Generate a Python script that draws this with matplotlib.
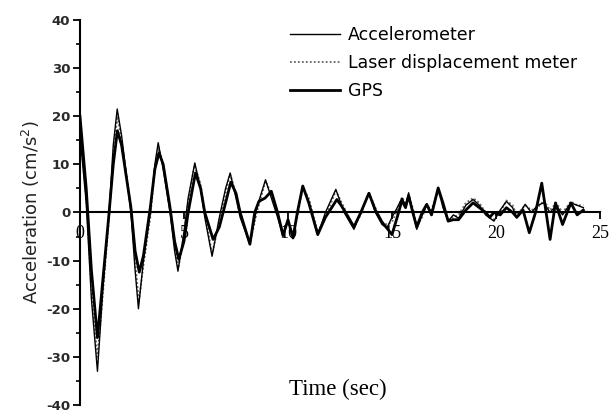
import matplotlib
matplotlib.use("Agg")
import matplotlib.pyplot as plt
from matplotlib.ticker import MultipleLocator

# Accelerometer record (thin solid)
acc_t = [0, 0.3, 0.55, 0.84, 1.1, 1.4, 1.6, 1.79, 2.0, 2.45, 2.65, 2.81, 3.05, 3.38,
         3.6, 3.76, 4.0, 4.33, 4.55, 4.71, 5.0, 5.2, 5.52, 5.8, 6.0, 6.35, 6.7, 7.0,
         7.22, 7.5, 7.7, 8.17, 8.5, 8.92, 9.2, 9.5, 9.76, 10.0, 10.24, 10.45, 10.71,
         11.0, 11.43, 11.8, 12.3, 12.7, 13.17, 13.5, 13.89, 14.2, 14.52, 14.76, 15.0,
         15.25, 15.48, 15.65, 15.8, 16.0, 16.19, 16.45, 16.67, 16.9, 17.22, 17.45,
         17.7, 17.95, 18.2, 18.55, 18.9, 19.2, 19.5, 19.9, 20.2, 20.5, 20.8, 21.0,
         21.4, 21.7, 22.0, 22.3, 22.6, 22.9, 23.2, 23.6, 23.9, 24.2]
acc_a = [16, 2, -18, -33, -16, 0, 14, 21.5, 16, 0, -12, -20, -10, 0,
         10, 14.5, 9, 0, -8, -12.2, -4, 3, 10.3, 5, -1, -9.1, -1, 5,
         8.2, 3, -1, -6.6, 1, 6.8, 3, -1, -4.9, -1.5, -5.3, 0, 5.5,
         2, -4.6, 0, 4.8, 0, -3.5, 0, 4.1, 0, -2.5, -3.2, -1,
         1, 3, 1.5, 4.1, 0, -3.5, -0.5, 1.7, 0, 5.1, 1,
         -1.8, -0.5, -1.2, 1.5, 2.7, 1.5, -0.5, -1.8, 0.5, 2.3, 1, -1.1,
         1.7, 0, 1.5, 2, 0, 1.5, -0.5, 2, 1.5, 1]

# Laser displacement meter record (dotted)
laser_t = [0, 0.3, 0.55, 0.84, 1.1, 1.4, 1.6, 1.8, 2.0, 2.45, 2.65, 2.83, 3.05, 3.38,
           3.6, 3.78, 4.0, 4.33, 4.55, 4.73, 5.0, 5.2, 5.5, 5.8, 6.0, 6.35, 6.7, 7.0,
           7.22, 7.5, 7.7, 8.17, 8.5, 8.92, 9.2, 9.5, 9.76, 10.0, 10.24, 10.45, 10.71,
           11.0, 11.43, 11.8, 12.3, 12.7, 13.17, 13.5, 13.89, 14.2, 14.52, 14.76, 15.0,
           15.25, 15.48, 15.65, 15.8, 16.0, 16.19, 16.45, 16.67, 16.9, 17.22, 17.45,
           17.7, 17.95, 18.2, 18.55, 18.9, 19.2, 19.5, 19.9, 20.2, 20.5, 20.8, 21.0,
           21.4, 21.7, 22.0, 22.3, 22.6, 22.9, 23.2, 23.6, 23.9, 24.2]
laser_a = [17, 3, -16, -30, -17, -1, 12, 20, 15, 1, -10, -18.5, -11, -1,
           9, 13.5, 10, 1, -7, -11.5, -5, 2, 9.8, 6, 0, -8.5, -2, 4,
           8, 4, 0, -6.5, 0, 6.5, 4, 0, -4, -2, -4.5, -1, 5.2,
           3, -4, -1, 4.5, 1, -3, -0.5, 4.2, 1, -2, -2.5, -2,
           0.5, 3.2, 2, 3.5, 1, -3, -1, 1.5, 0.5, 4.5, 1.5,
           -1.5, -1, -0.5, 2, 3, 2, 0, -1.5, 0, 2.5, 1.5, -0.5,
           1.5, 0.5, 1, 2.5, 0.5, 2, 0, 2.3, 1.5, 1.5]

# GPS record (thick solid)
gps_t = [0, 0.3, 0.55, 0.84, 1.1, 1.4, 1.6, 1.8, 2.0, 2.45, 2.65, 2.85, 3.05, 3.38,
         3.6, 3.8, 4.0, 4.33, 4.55, 4.75, 5.0, 5.2, 5.55, 5.8, 6.0, 6.4, 6.7, 7.0,
         7.25, 7.5, 7.7, 8.17, 8.4, 8.6, 8.9, 9.2, 9.5, 9.76, 10.0, 10.24, 10.45,
         10.71, 11.0, 11.43, 11.8, 12.1, 12.35, 12.55, 12.7, 13.17, 13.5, 13.89, 14.2,
         14.52, 14.8, 15.0, 15.25, 15.48, 15.65, 15.8, 16.0, 16.19, 16.45, 16.67,
         16.9, 17.22, 17.45, 17.7, 17.95, 18.2, 18.55, 18.9, 19.2, 19.5, 19.7, 19.9,
         20.2, 20.5, 20.8, 21.0, 21.3, 21.6, 21.9, 22.2, 22.6, 22.86, 23.2, 23.6,
         23.9, 24.2]
gps_a = [20, 5, -12, -26, -14, 0, 10, 17, 14, 1, -8, -12.4, -9, 1,
         9, 12.4, 10, 1, -6, -9.75, -6, 0, 8.2, 5, 0, -5.6, -3, 2,
         6.3, 4, 0, -6.6, 0, 2.3, 3, 4.4, 0, -4.8, -1.5, -5.3, 0,
         5.5, 2, -4.6, -1, 1, 2.7, 1.5, 0.5, -3, 0, 4, 0.5,
         -2, -3.5, -4.6, -1, 2.5, 1, 3.5, 0, -3, 0, 1.7,
         -0.5, 5.1, 2, -1.8, -1.5, -1.5, 0.5, 2, 1, 0, -1, 0,
         -0.5, 1, 0, -1, 0.5, -4.2, 0, 6.1, -5.6, 2, -2.5, 2,
         -0.5, 0.5]

x_ticks = [0, 5, 10, 15, 20, 25]
y_ticks = [-40, -30, -20, -10, 0, 10, 20, 30, 40]

serif = "Liberation Serif"
sans = "DejaVu Sans"

fig = plt.figure(figsize=(6.11, 4.13), dpi=100)
ax = fig.add_axes([0.1309, 0.0194, 0.8511, 0.9322])

ax.plot(acc_t, acc_a, color="black", lw=1.0, label="Accelerometer", zorder=3)
ax.plot(laser_t, laser_a, color="#666666", lw=1.3, ls=(0, (1, 1.2)),
        label="Laser displacement meter", zorder=2)
ax.plot(gps_t, gps_a, color="black", lw=2.0, label="GPS", zorder=4)

ax.set_xlim(0, 25)
ax.set_ylim(-40, 40)

ax.spines["top"].set_visible(False)
ax.spines["right"].set_visible(False)
ax.spines["bottom"].set_position(("data", 0))
ax.spines["bottom"].set_linewidth(1.5)
ax.spines["left"].set_linewidth(1.5)
ax.spines["bottom"].set_zorder(5)

ax.set_xticks(x_ticks)
ax.set_xticklabels([str(v) for v in x_ticks], fontfamily=serif, fontsize=13)
ax.set_yticks(y_ticks)
ax.set_yticklabels([str(v) for v in y_ticks], fontfamily=sans, fontsize=9.5,
                   fontweight="bold", color="#2a2a2a")
ax.yaxis.set_minor_locator(MultipleLocator(5))
ax.tick_params(axis="y", which="major", direction="out", length=5, width=1.3, pad=2)
ax.tick_params(axis="y", which="minor", direction="out", length=3, width=1.2)
ax.tick_params(axis="x", which="major", direction="out", length=5, width=1.3, pad=4)

ax.set_ylabel("Acceleration (cm/s$^2$)", fontfamily=sans, fontsize=13, labelpad=3,
              color="#222222")
ax.text(0.495, 0.04, "Time (sec)", transform=ax.transAxes, fontfamily=serif,
        fontsize=16.5, ha="center", va="center")

ax.legend(loc="upper left", bbox_to_anchor=(0.404, 0.985), frameon=False,
          prop={"family": sans, "size": 12.5}, handlelength=2.9,
          handletextpad=0.45, labelspacing=0.58, borderpad=0, borderaxespad=0)

fig.savefig("out.png", dpi=100)
